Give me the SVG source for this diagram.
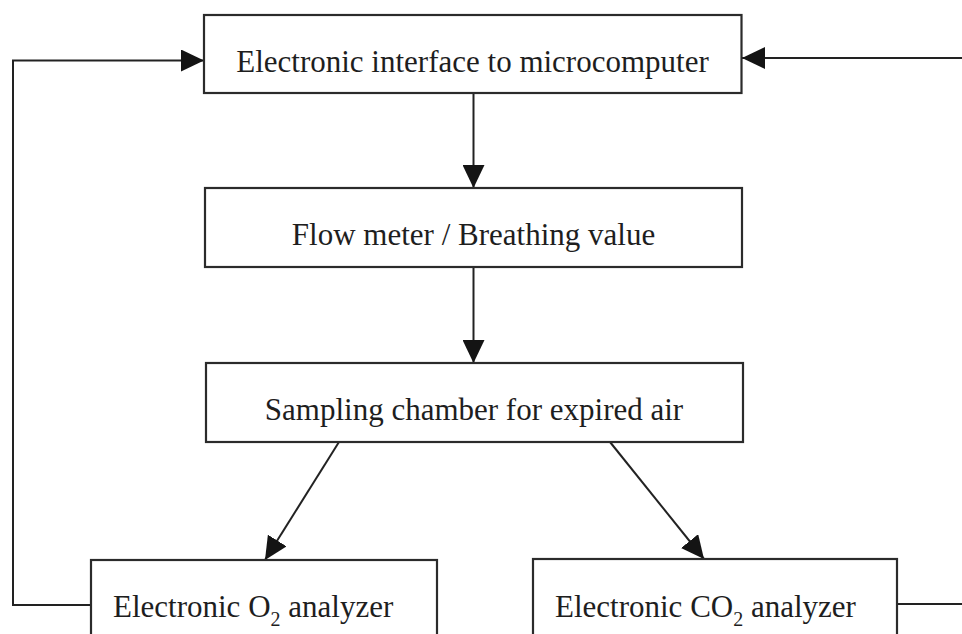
<svg xmlns="http://www.w3.org/2000/svg" width="962" height="634" viewBox="0 0 962 634">
  <style>
    .box { fill: #ffffff; stroke: #2b2b2b; stroke-width: 2.2; }
    .lbl { font-family: "Liberation Serif", "Times New Roman", serif; font-size: 31px; fill: #1e1e1e; }
    .mid { text-anchor: middle; }
    .sub { font-size: 20px; }
    .wire { fill: none; stroke: #222222; stroke-width: 2; }
  </style>
  <defs>
    <marker id="arrow" markerUnits="userSpaceOnUse" markerWidth="23" markerHeight="22" refX="23" refY="11" orient="auto">
      <path d="M0,0 L23,11 L0,22 Z" fill="#141414"/>
    </marker>
  </defs>
  <rect width="962" height="634" fill="#ffffff"/>

  <!-- connectors -->
  <g id="connectors">
    <line class="wire" x1="473.5" y1="93" x2="473.5" y2="188" marker-end="url(#arrow)"/>
    <line class="wire" x1="473.5" y1="267" x2="473.5" y2="363" marker-end="url(#arrow)"/>
    <line class="wire" x1="339" y1="442" x2="265" y2="560" marker-end="url(#arrow)"/>
    <line class="wire" x1="610" y1="442" x2="704" y2="559" marker-end="url(#arrow)"/>
    <polyline class="wire" points="91,605 13,605 13,60.5 204,60.5" marker-end="url(#arrow)"/>
    <line class="wire" x1="897" y1="604" x2="970" y2="604"/>
    <line class="wire" x1="970" y1="58" x2="742" y2="58" marker-end="url(#arrow)"/>
  </g>

  <!-- nodes -->
  <g id="interface">
    <rect class="box" x="204" y="15" width="537.5" height="78"/>
    <text class="lbl mid" x="472.5" y="72">Electronic interface to microcomputer</text>
  </g>
  <g id="flowmeter">
    <rect class="box" x="205" y="188" width="537" height="79"/>
    <text class="lbl mid" x="473.5" y="245">Flow meter / Breathing value</text>
  </g>
  <g id="sampling">
    <rect class="box" x="206" y="363" width="537" height="79"/>
    <text class="lbl mid" x="474" y="420">Sampling chamber for expired air</text>
  </g>
  <g id="o2-analyzer">
    <rect class="box" x="91" y="560" width="346" height="90"/>
    <text class="lbl" x="113" y="617">Electronic O<tspan class="sub" dy="9">2</tspan><tspan dy="-9"> analyzer</tspan></text>
  </g>
  <g id="co2-analyzer">
    <rect class="box" x="533" y="559" width="364" height="90"/>
    <text class="lbl" x="555" y="617">Electronic CO<tspan class="sub" dy="9">2</tspan><tspan dy="-9"> analyzer</tspan></text>
  </g>
</svg>
